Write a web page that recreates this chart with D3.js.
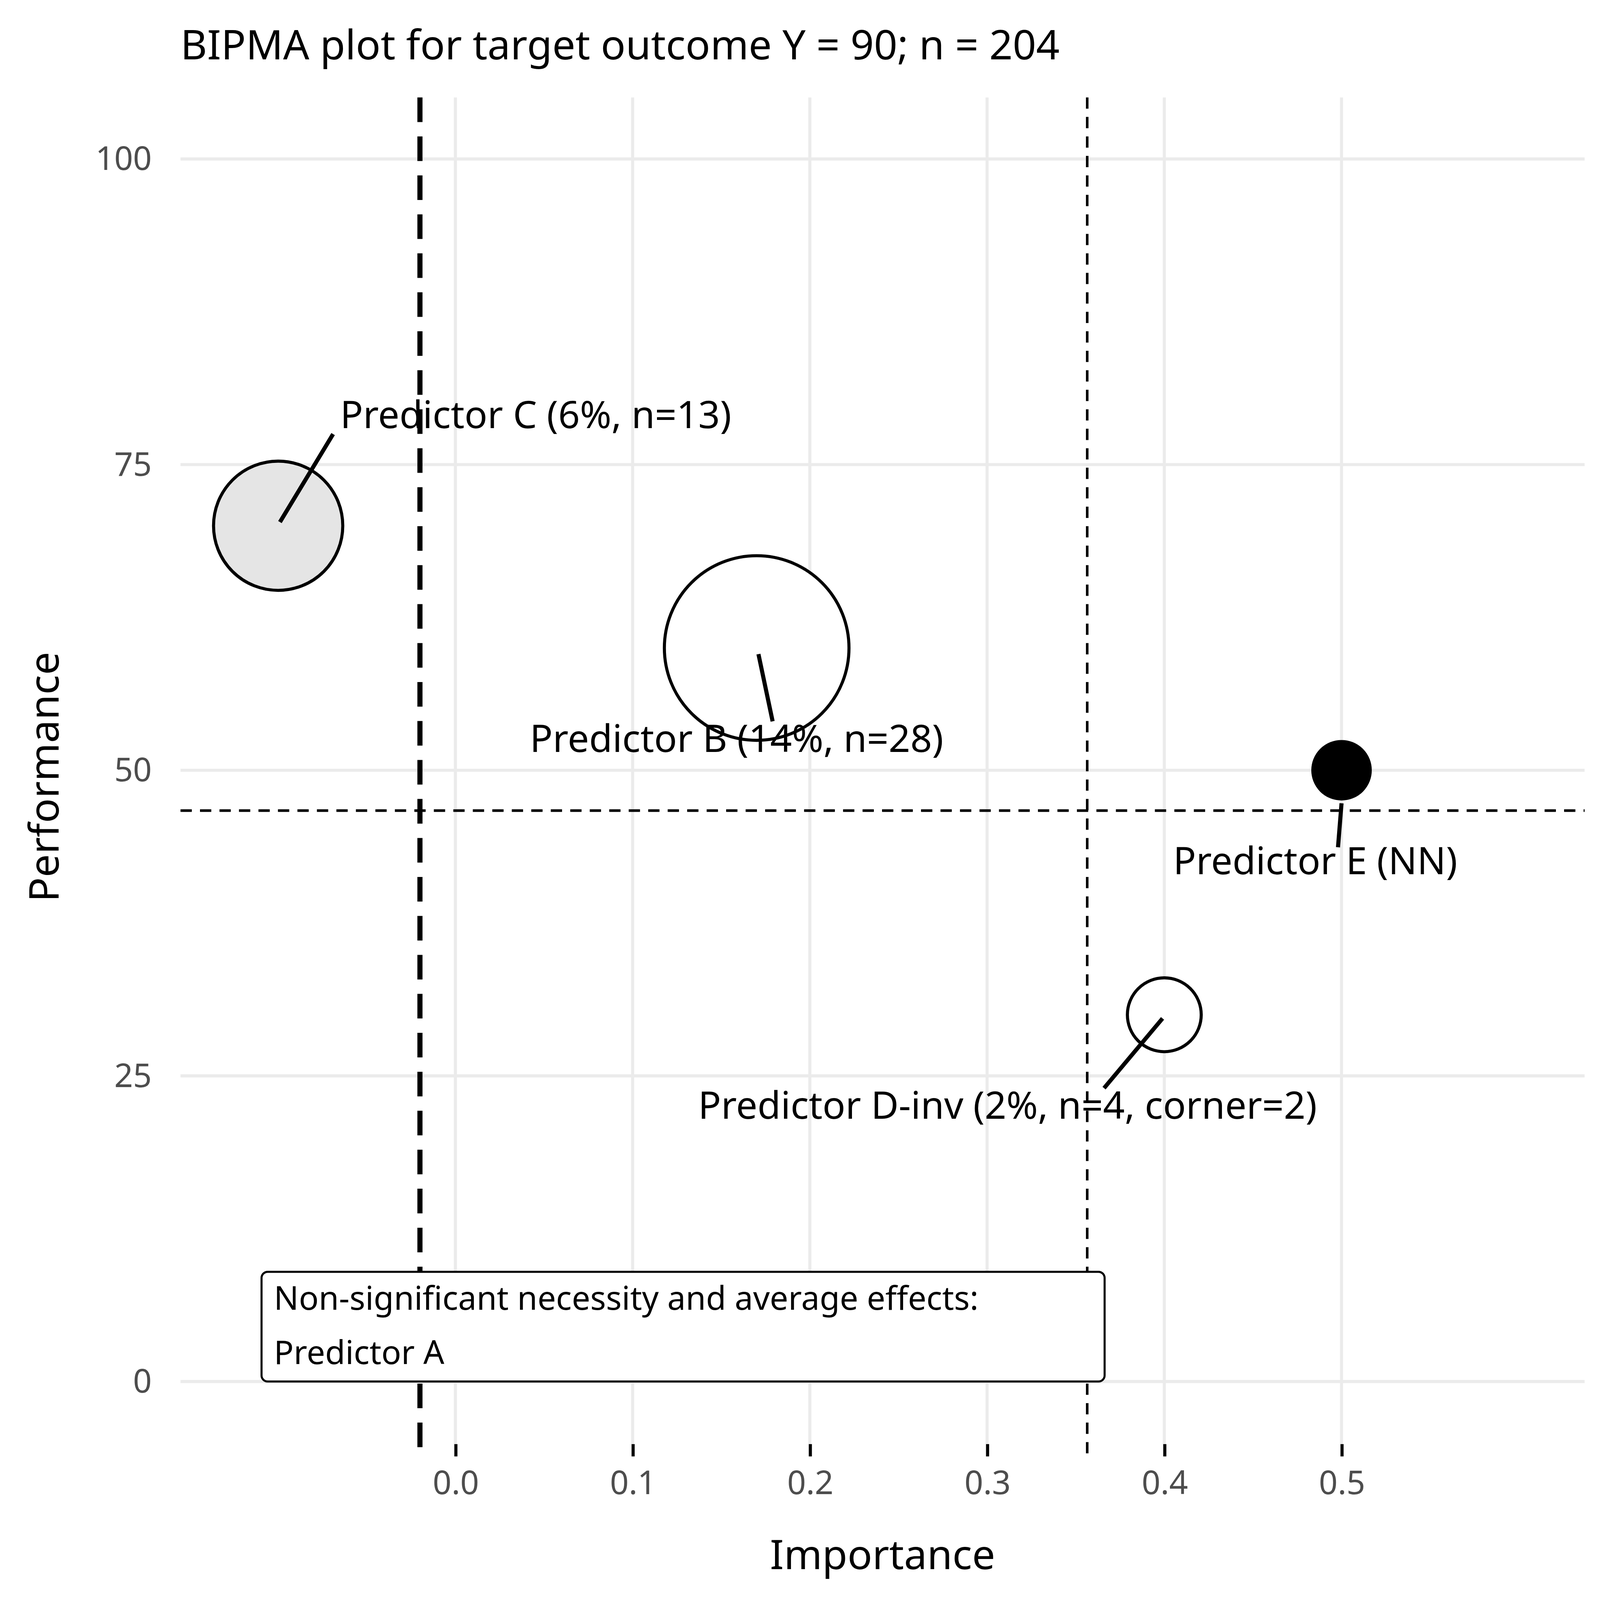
<!DOCTYPE html>
<html><head><meta charset="utf-8">
<script src="https://cdn.jsdelivr.net/npm/d3@7"></script>
<style>html,body{margin:0;padding:0;background:#fff;overflow:hidden}svg{display:block;width:100vw;height:100vh}text{font-family:"Noto Sans",sans-serif}</style>
</head><body>
<script>
// data
var names = ["Predictor C (6%, n=13)", "Predictor B (14%, n=28)", "Predictor D-inv (2%, n=4, corner=2)", "Predictor E (NN)"];
var importance = [-0.1, 0.17, 0.4, 0.5];
var performance = [70, 60, 30, 50];
var radii = [63, 90, 36, 28];
var fills = ["#e5e5e5", "#fff", "#fff", "#000"];
// label anchor (data units) for repel-like labels
var labX = [-0.065, 0.042, 0.137, 0.405];
var labY = [78, 51.5, 21.5, 41.5];
var xTicks = [0, 0.1, 0.2, 0.3, 0.4, 0.5];
var yTicks = [0, 25, 50, 75, 100];
var necessityLine = -0.02, importanceLine = 0.3565, performanceLine = 46.7;

var W = 1560;
var svg = d3.select("body").append("svg")
  .attr("viewBox", "0 0 " + W + " " + W).attr("preserveAspectRatio", "xMidYMid meet");
var x = d3.scaleLinear().domain([0, 0.5]).range([444, 1308]);
var y = d3.scaleLinear().domain([0, 100]).range([1347, 155]);
var x0 = 176, x1 = 1545, y0 = 95, y1 = 1420;

// grid
svg.selectAll(".gx").data(xTicks).enter().append("line")
  .attr("x1", d => x(d)).attr("x2", d => x(d)).attr("y1", y0).attr("y2", y1)
  .attr("stroke", "#ebebeb").attr("stroke-width", 3);
svg.selectAll(".gy").data(yTicks).enter().append("line")
  .attr("x1", x0).attr("x2", x1).attr("y1", d => y(d)).attr("y2", d => y(d))
  .attr("stroke", "#ebebeb").attr("stroke-width", 3);

// axes
var xa = svg.append("g").attr("transform", "translate(0," + (y1 - 12) + ")")
  .call(d3.axisBottom(x).tickValues(xTicks).tickFormat(d3.format(".1f")).tickSize(12).tickPadding(14));
xa.select(".domain").remove();
xa.selectAll("line").attr("stroke", "#000").attr("stroke-width", 3);
xa.selectAll("text").attr("font-size", 32).attr("fill", "#4d4d4d").attr("font-family", "Noto Sans");
var ya = svg.append("g").attr("transform", "translate(" + x0 + ",0)")
  .call(d3.axisLeft(y).tickValues(yTicks).tickSize(0).tickPadding(28));
ya.select(".domain").remove();
ya.selectAll("text").attr("font-size", 32).attr("fill", "#4d4d4d").attr("font-family", "Noto Sans");

// reference lines
svg.append("line").attr("x1", x(necessityLine)).attr("x2", x(necessityLine)).attr("y1", y0).attr("y2", y1)
  .attr("stroke", "#000").attr("stroke-width", 5).attr("stroke-dasharray", "24,14");
svg.append("line").attr("x1", x(importanceLine)).attr("x2", x(importanceLine)).attr("y1", y0).attr("y2", y1)
  .attr("stroke", "#000").attr("stroke-width", 2.5).attr("stroke-dasharray", "11,8");
svg.append("line").attr("x1", x0).attr("x2", x1).attr("y1", y(performanceLine)).attr("y2", y(performanceLine))
  .attr("stroke", "#000").attr("stroke-width", 2.5).attr("stroke-dasharray", "11,8");

// points
var idx = d3.range(names.length);
svg.selectAll(".pt").data(idx).enter().append("circle")
  .attr("cx", i => x(importance[i])).attr("cy", i => y(performance[i])).attr("r", i => radii[i])
  .attr("fill", i => fills[i]).attr("stroke", "#000").attr("stroke-width", 3);

// label segments
var segEnd = [[-0.069, 77.5], [0.179, 54], [0.366, 24], [0.498, 43.7]];
var segStart = [[-0.099, 70.3], [0.171, 59.5], [0.399, 29.7], [0.5, 47.3]];
svg.selectAll(".seg").data(idx).enter().append("line")
  .attr("x1", i => x(segStart[i][0])).attr("y1", i => y(segStart[i][1]))
  .attr("x2", i => x(segEnd[i][0])).attr("y2", i => y(segEnd[i][1]))
  .attr("stroke", "#000").attr("stroke-width", 4);
svg.selectAll(".lab").data(idx).enter().append("text")
  .attr("x", i => x(labX[i])).attr("y", i => y(labY[i]))
  .attr("font-size", 37).text(i => names[i]);

// note box
svg.append("rect").attr("x", 255).attr("y", 1240).attr("width", 822).attr("height", 107).attr("rx", 6)
  .attr("fill", "#fff").attr("stroke", "#000").attr("stroke-width", 2);
svg.append("text").attr("x", 267).attr("y", 1277).attr("font-size", 32).text("Non-significant necessity and average effects:");
svg.append("text").attr("x", 267).attr("y", 1330).attr("font-size", 32).text("Predictor A");

// titles
svg.append("text").attr("x", 176).attr("y", 58).attr("font-size", 40).text("BIPMA plot for target outcome Y = 90; n = 204");
svg.append("text").attr("x", (x0 + x1) / 2).attr("y", 1530).attr("text-anchor", "middle").attr("font-size", 40).text("Importance");
svg.append("text").attr("transform", "translate(57," + ((y0 + y1) / 2) + ") rotate(-90)")
  .attr("text-anchor", "middle").attr("font-size", 40).text("Performance");
</script>
</body></html>
